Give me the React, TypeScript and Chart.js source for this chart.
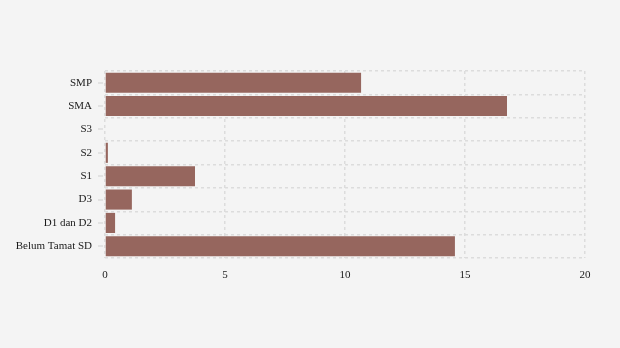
import React, { useEffect, useRef } from "react";
import { Chart, registerables } from "chart.js";

Chart.register(...registerables);

const categories = ["SMP", "SMA", "S3", "S2", "S1", "D3", "D1 dan D2", "Belum Tamat SD"];
const values = [10.67, 16.75, 0, 0.12, 3.75, 1.12, 0.42, 14.58];
const xTicks = [0, 5, 10, 15, 20];

const GRID = "#dcdcdc";
const FONT = "'Liberation Serif', 'Times New Roman', serif";

const yTickMarks = {
  id: "yTickMarks",
  afterDraw(chart: any) {
    const y = chart.scales.y;
    const ctx = chart.ctx;
    ctx.save();
    ctx.strokeStyle = GRID;
    ctx.lineWidth = 1.5;
    for (let i = 0; i < categories.length; i++) {
      const py = Math.round(y.getPixelForValue(i));
      ctx.beginPath();
      ctx.moveTo(y.right - 7, py);
      ctx.lineTo(y.right - 2, py);
      ctx.stroke();
    }
    ctx.restore();
  },
};

const bgPlugin = {
  id: "bg",
  beforeDraw(chart: any) {
    const ctx = chart.ctx;
    ctx.save();
    ctx.fillStyle = "#f4f4f4";
    ctx.fillRect(0, 0, chart.width, chart.height);
    ctx.restore();
  },
};

export default function App() {
  const ref = useRef<HTMLCanvasElement>(null);
  useEffect(() => {
    document.body.style.margin = "0";
    const chart = new Chart(ref.current!, {
      type: "bar",
      data: {
        labels: categories,
        datasets: [
          {
            data: values,
            backgroundColor: "rgba(150,102,94,1)",
            borderWidth: 0,
            categoryPercentage: 0.86,
            barPercentage: 1,
          },
        ],
      },
      options: {
        indexAxis: "y",
        animation: false,
        responsive: false,
        maintainAspectRatio: false,
        layout: { padding: { top: 71, right: 35, bottom: 0, left: 0 } },
        plugins: { legend: { display: false }, tooltip: { enabled: false } },
        scales: {
          x: {
            min: 0,
            max: 20,
            afterBuildTicks: (s: any) => {
              s.ticks = xTicks.map((v) => ({ value: v }));
            },
            afterFit: (s: any) => {
              s.height = 90;
            },
            border: { display: false, dash: [3, 3] },
            grid: {
              color: GRID,
              lineWidth: 1.5,
              drawTicks: false,
            },
            ticks: {
              padding: 11,
              color: "#1a1a1a",
              font: { family: FONT, size: 11 },
            },
          },
          y: {
            afterFit: (s: any) => {
              s.width = 105;
            },
            border: { display: false, dash: [3, 3] },
            grid: {
              color: GRID,
              lineWidth: 1.5,
              drawTicks: false,
              offset: true,
            },
            ticks: {
              padding: 13,
              color: "#1a1a1a",
              font: { family: FONT, size: 11 },
            },
          },
        },
      },
      plugins: [bgPlugin, yTickMarks],
    } as any);
    return () => chart.destroy();
  }, []);
  return <canvas ref={ref} width={620} height={348} style={{ display: "block", width: 620, height: 348 }} />;
}
